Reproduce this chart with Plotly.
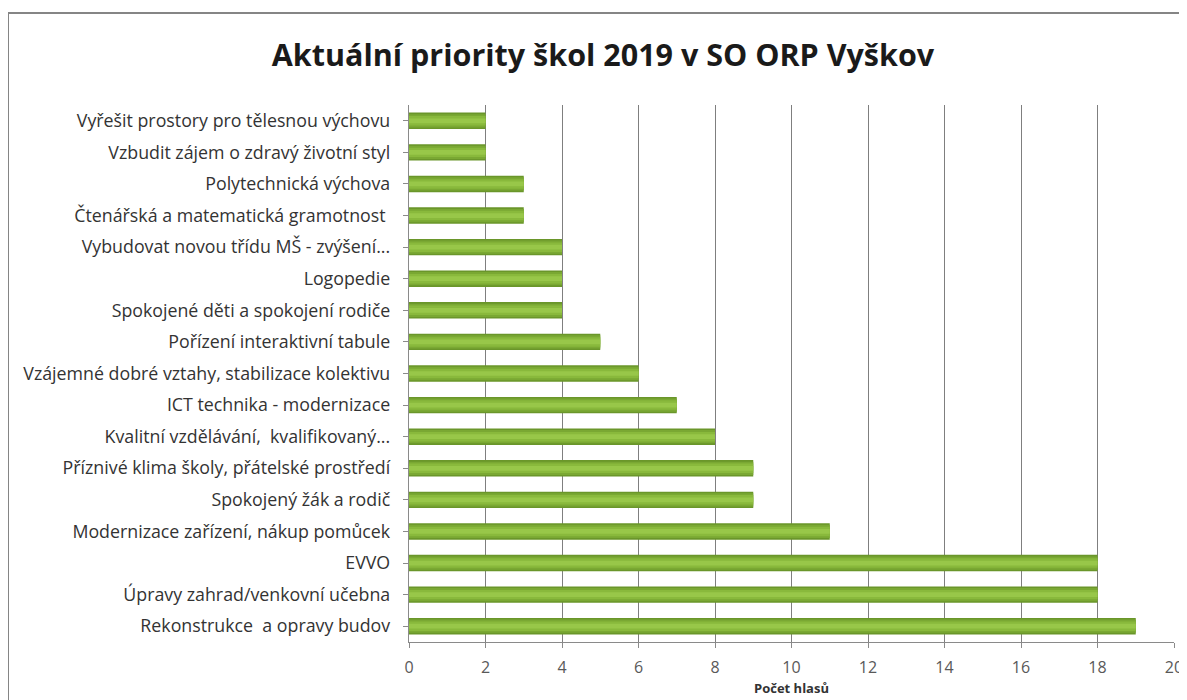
import plotly.graph_objects as go

categories = [
    "Vyřešit prostory pro tělesnou výchovu",
    "Vzbudit zájem o zdravý životní styl",
    "Polytechnická výchova",
    "Čtenářská a matematická gramotnost ",
    "Vybudovat novou třídu MŠ - zvýšení...",
    "Logopedie",
    "Spokojené děti a spokojení rodiče",
    "Pořízení interaktivní tabule",
    "Vzájemné dobré vztahy, stabilizace kolektivu",
    "ICT technika - modernizace",
    "Kvalitní vzdělávání,  kvalifikovaný...",
    "Příznivé klima školy, přátelské prostředí",
    "Spokojený žák a rodič",
    "Modernizace zařízení, nákup pomůcek",
    "EVVO",
    "Úpravy zahrad/venkovní učebna",
    "Rekonstrukce  a opravy budov",
]
votes = [2, 2, 3, 3, 4, 4, 4, 5, 6, 7, 8, 9, 9, 11, 18, 18, 19]
x_ticks = [0, 2, 4, 6, 8, 10, 12, 14, 16, 18, 20]

# the page places the figure 8px from the top-left corner
W, H = 1179, 692
ml, mr, mt, mb = 401, 13, 97, 58

fig = go.Figure()
layers = [(0.52, "#6a962a"), (0.42, "#7aa833"), (0.30, "#89b93c"), (0.15, "#98c749")]
for w, c in layers:
    fig.add_trace(go.Bar(
        x=votes, y=categories, orientation="h", width=w,
        marker=dict(color=c, line=dict(width=0)),
        showlegend=False, hoverinfo="x+y",
    ))

pw = W - ml - mr
ph = H - mt - mb
fig.add_shape(type="rect", xref="paper", yref="paper",
              x0=(0 - ml) / pw, x1=1 + 30 / pw,
              y0=-(mb + 20) / ph, y1=1 + (mt - 5) / ph,
              line=dict(color="#858585", width=2), layer="below")

fig.update_layout(
    width=W, height=H,
    margin=dict(l=ml, r=mr, t=mt, b=mb, autoexpand=False),
    barmode="overlay",
    paper_bgcolor="white", plot_bgcolor="white",
    font=dict(family="Open Sans, Lato, sans-serif", color="#333333"),
    title=dict(text="<b>Aktuální priority škol 2019 v SO ORP Vyškov</b>",
               x=595 / W, xref="container", xanchor="center",
               y=1 - 47 / H, yref="container", yanchor="middle",
               font=dict(size=30.5, color="#1a1a1a", family="Open Sans, sans-serif")),
    xaxis=dict(range=[0, 20], tickvals=x_ticks, showgrid=True, automargin=False,
               gridcolor="#7f7f7f", gridwidth=1, zeroline=False,
               showline=True, linecolor="#8a8a8a", ticks="outside",
               ticklen=5, tickcolor="#8a8a8a", ticklabelstandoff=6,
               tickfont=dict(size=16, color="#595959"),
               title=dict(text="<b>Počet hlasů</b>", font=dict(size=13, color="#333333"),
                          standoff=6)),
    yaxis=dict(categoryorder="array", categoryarray=categories, automargin=False,
               autorange="reversed", showgrid=False, showline=True,
               linecolor="#8a8a8a", ticks="outside", ticklen=5, tickcolor="#8a8a8a",
               tickfont=dict(size=17.8, color="#333333"), ticksuffix="  "),
    bargap=0.5,
)

fig.write_html("out.html")
